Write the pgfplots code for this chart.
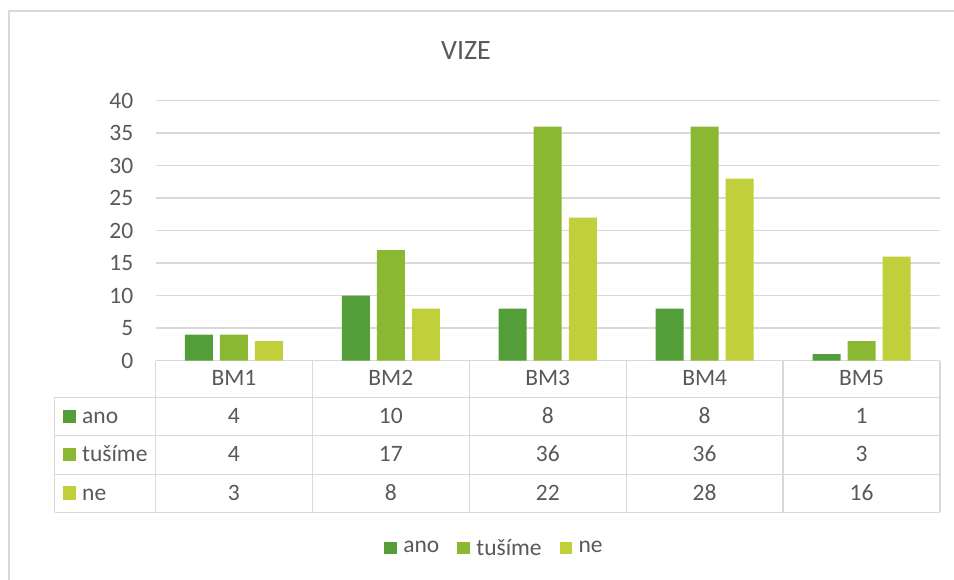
\documentclass[border=0pt]{standalone}
\usepackage{fontspec}
\setmainfont{Carlito}
\usepackage{pgfplots}
\usepackage{pgfplotstable}
\pgfplotsset{compat=1.18}

\definecolor{anoc}{HTML}{549E39}
\definecolor{tusc}{HTML}{8AB833}
\definecolor{nec}{HTML}{C0CF3A}
\definecolor{txt}{HTML}{595959}
\definecolor{rule}{HTML}{D9D9D9}

% VIZE: counts per BM
\pgfplotstableread{
x ano tusime ne
0 4  4  3
1 10 17 8
2 8  36 22
3 8  36 28
4 1  3  16
}\vize

\begin{document}
\begin{tikzpicture}[font=\fontsize{23.5}{28}\selectfont, text=txt]
\begin{scope}[x=1pt,y=1pt]
  % chart area border (cut off right and bottom)
  \draw[rule, line width=1.5pt] (9,-600) -- (9,-11) -- (970,-11);
  \node[anchor=base, font=\fontsize{28}{34}\selectfont] at (466,-59.3) {VIZE};
  % data table rules
  \draw[rule, line width=1.3pt] (54.5,-397.3) -- (940,-397.3);
  \draw[rule, line width=1.3pt] (54.5,-435.7) -- (940,-435.7);
  \draw[rule, line width=1.3pt] (54.5,-474.3) -- (940,-474.3);
  \draw[rule, line width=1.3pt] (54.5,-512.3) -- (940,-512.3);
  \draw[rule, line width=1.3pt] (54.5,-397.3) -- (54.5,-512.3);
  \foreach \xx in {155.5,312.4,469.3,626.2,783.1,940}
    \draw[rule, line width=1.3pt] (\xx,-360.5) -- (\xx,-512.3);
  % row labels
  \fill[anoc] (63,-422.7) rectangle (75.5,-409.5);
  \node[anchor=base west, inner sep=0pt] at (82,-423.3) {ano};
  \fill[tusc] (63,-461.1) rectangle (75.5,-447.9);
  \node[anchor=base west, inner sep=0pt] at (82,-461.7) {tušíme};
  \fill[nec] (63,-499.5) rectangle (75.5,-486.3);
  \node[anchor=base west, inner sep=0pt] at (82,-500.1) {ne};
\end{scope}

\begin{axis}[
  at={(155.5pt,-360.5pt)}, anchor=south west,
  scale only axis, width=784.5pt, height=260pt,
  xmin=-0.5, xmax=4.5, ymin=0, ymax=40,
  ytick={0,5,...,40},
  xtick={0,1,2,3,4},
  xticklabels={BM1,BM2,BM3,BM4,BM5},
  ymajorgrids,
  grid style={rule, line width=1.3pt},
  axis line style={draw=none},
  major tick length=0pt,
  tick label style={text=txt, inner sep=0pt},
  yticklabel style={anchor=east, xshift=-22pt},
  xticklabel style={anchor=base, yshift=-24.5pt},
  /pgf/number format/assume math mode=true,
  clip=false,
  legend columns=3,
  legend style={at={(0.4309,-0.7212)}, anchor=center, draw=none, fill=none,
    inner sep=0pt, nodes={inner sep=0pt, text=txt},
    /tikz/every odd column/.append style={column sep=6.5pt},
    /tikz/every even column/.append style={column sep=18pt}},
  legend image code/.code={\fill[#1] (0pt,-6.3pt) rectangle (12.5pt,6.3pt);},
]
\addplot[ybar, bar width=28pt, bar shift=-35pt, fill=anoc, draw=none] table[x=x, y=ano] {\vize};
\addplot[ybar, bar width=28pt, bar shift=0pt, fill=tusc, draw=none] table[x=x, y=tusime] {\vize};
\addplot[ybar, bar width=28pt, bar shift=35pt, fill=nec, draw=none] table[x=x, y=ne] {\vize};
\legend{ano, tušíme, ne}

% data table values
\addplot[draw=none, mark=none, forget plot, nodes near coords, point meta=explicit symbolic,
  every node near coord/.append style={anchor=base, inner sep=0pt, text=txt}]
  table[x=x, y expr=-9.66, meta=ano] {\vize};
\addplot[draw=none, mark=none, forget plot, nodes near coords, point meta=explicit symbolic,
  every node near coord/.append style={anchor=base, inner sep=0pt, text=txt}]
  table[x=x, y expr=-15.57, meta=tusime] {\vize};
\addplot[draw=none, mark=none, forget plot, nodes near coords, point meta=explicit symbolic,
  every node near coord/.append style={anchor=base, inner sep=0pt, text=txt}]
  table[x=x, y expr=-21.48, meta=ne] {\vize};
\end{axis}
\pgfresetboundingbox
\useasboundingbox (0pt,0pt) rectangle (954pt,-579pt);
\end{tikzpicture}
\end{document}
